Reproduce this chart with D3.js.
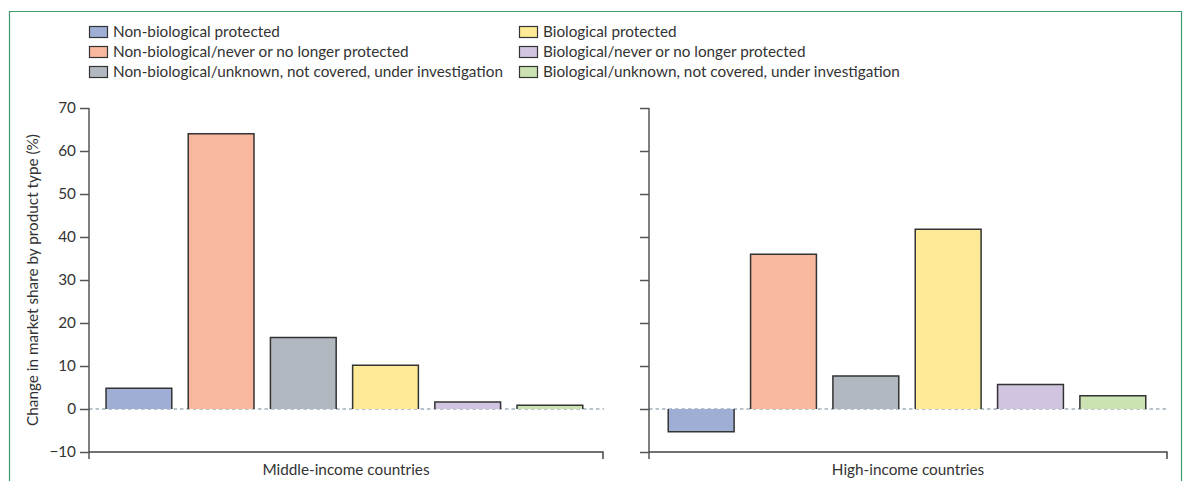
<!DOCTYPE html>
<html><head><meta charset="utf-8">
<script src="https://cdn.jsdelivr.net/npm/d3@7"></script>
<style>
body{margin:0;background:#fff;}
text{font-family:Lato,"Open Sans",sans-serif;fill:#333;}
</style></head>
<body><svg id="c" width="1184" height="481"></svg>
<script>
const categories = ["Non-biological protected","Non-biological/never or no longer protected","Non-biological/unknown, not covered, under investigation","Biological protected","Biological/never or no longer protected","Biological/unknown, not covered, under investigation"];
const colors = ["#9eaed5","#f9b89d","#b2b8bf","#fdea96","#d1c4e0","#cbe2b3"];
const groups = ["Middle-income countries","High-income countries"];
const middleValues = [4.8, 64.0, 16.6, 10.2, 1.6, 0.9];
const highValues = [-5.3, 36.0, 7.7, 41.8, 5.7, 3.1];
const yTicks = [-10, 0, 10, 20, 30, 40, 50, 60, 70];
const yLabel = "Change in market share by product type (%)";

const FS = 15.3;
const svg = d3.select("#c");
// frame
svg.append("path").attr("d","M9.5,490 V11.5 H1181.5 V490").attr("fill","none").attr("stroke","#3f9a6e").attr("stroke-width",1.2);

const y = d3.scaleLinear().domain([-10,70]).range([452,108]);

// legend
const legendCols = [89, 519];
categories.forEach((c,i)=>{
  const col = Math.floor(i/3), row = i%3;
  const gx = legendCols[col], gy = 32 + row*20;
  svg.append("rect").attr("x",gx+0.5).attr("y",gy-5.5).attr("width",18).attr("height",11)
    .attr("fill",colors[i]).attr("stroke","#333").attr("stroke-width",1.2);
  svg.append("text").attr("x",gx+24).attr("y",gy).attr("dy","0.35em").attr("font-size",FS).text(c);
});

const panels = [
  {values: middleValues, axisX: 89, range:[97.8,591], end:603, showLabels:true, label: groups[0]},
  {values: highValues, axisX: 649, range:[660,1154], end:1167, showLabels:false, label: groups[1]}
];

panels.forEach(p=>{
  const g = svg.append("g");
  const x = d3.scaleBand().domain(categories).range(p.range).paddingInner(0.2).paddingOuter(0.1);
  // zero dashed line
  g.append("line").attr("x1",p.axisX).attr("x2",p.end+1).attr("y1",y(0)).attr("y2",y(0))
    .attr("stroke","#6f8796").attr("stroke-width",1.2).attr("stroke-dasharray","3.5,3");
  // bars
  categories.forEach((c,i)=>{
    const v = p.values[i];
    const x0 = x(c), w = x.bandwidth();
    const y0 = y(0), y1 = y(v);
    g.append("rect").attr("x",x0).attr("y",Math.min(y0,y1)).attr("width",w).attr("height",Math.abs(y1-y0))
      .attr("fill",colors[i]);
    g.append("path").attr("d",`M${x0},${y0} V${y1} H${x0+w} V${y0}`)
      .attr("fill","none").attr("stroke","#333").attr("stroke-width",1.5);
  });
  // y axis
  const ax = d3.axisLeft(y).tickValues(yTicks).tickSize(9).tickPadding(4)
    .tickFormat(d=> p.showLabels ? (d<0 ? "\u2212"+Math.abs(d) : d) : "");
  const ag = g.append("g").attr("transform",`translate(${p.axisX},0)`).call(ax);
  ag.select(".domain").remove();
  ag.selectAll("line").attr("stroke","#555").attr("stroke-width",1.5);
  ag.selectAll("text").attr("font-size",FS).attr("fill","#333").attr("font-family","Lato,'Open Sans',sans-serif");
  g.append("line").attr("x1",p.axisX).attr("x2",p.axisX).attr("y1",y(70)).attr("y2",459)
    .attr("stroke","#555").attr("stroke-width",1.5);
  // bottom line
  g.append("path").attr("d",`M${p.axisX},${y(-10)} H${p.end} V459`).attr("fill","none")
    .attr("stroke","#444").attr("stroke-width",1.5);
  g.append("text").attr("x",(p.axisX+p.end)/2).attr("y",470).attr("dy","0.35em")
    .attr("text-anchor","middle").attr("font-size",FS).text(p.label);
});

svg.append("text").attr("transform","translate(33,280) rotate(-90)").attr("text-anchor","middle")
  .attr("dy","0.35em").attr("font-size",FS).text(yLabel);
</script></body></html>
